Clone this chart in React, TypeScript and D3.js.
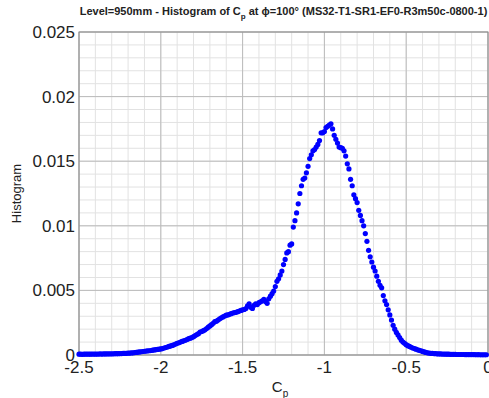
import React from "react";
import * as d3 from "d3";

// Histogram of Cp, bins of width 0.01 starting at -2.50 (values in units of 1e-3)
const binStart = -2.5;
const binWidth = 0.01;
const histogramPerMille = [
  // -2.50 .. -2.31
  0.06, 0.06, 0.05, 0.06, 0.06, 0.07, 0.06, 0.06, 0.07, 0.07,
  0.06, 0.07, 0.07, 0.08, 0.07, 0.08, 0.08, 0.08, 0.09, 0.08,
  // -2.30
  0.09, 0.09, 0.10, 0.10, 0.10, 0.11, 0.11, 0.12, 0.12, 0.13,
  // -2.20
  0.14, 0.15, 0.16, 0.17, 0.19, 0.20, 0.22, 0.24, 0.25, 0.27,
  // -2.10
  0.29, 0.30, 0.32, 0.33, 0.35, 0.37, 0.39, 0.41, 0.43, 0.45,
  // -2.00
  0.47, 0.50, 0.54, 0.58, 0.62, 0.66, 0.70, 0.74, 0.79, 0.85,
  // -1.90
  0.90, 0.95, 1.00, 1.05, 1.10, 1.14, 1.20, 1.26, 1.30, 1.35,
  // -1.80
  1.42, 1.50, 1.58, 1.65, 1.78, 1.82, 1.88, 1.95, 2.05, 2.15,
  // -1.70
  2.25, 2.35, 2.45, 2.58, 2.62, 2.70, 2.80, 2.88, 2.95, 3.02,
  // -1.60
  3.08, 3.10, 3.15, 3.20, 3.25, 3.28, 3.30, 3.35, 3.40, 3.45,
  // -1.50
  3.50, 3.52, 3.60, 3.80, 3.95, 3.70, 3.60, 3.85, 3.95, 3.90,
  // -1.40
  4.05, 4.12, 4.20, 4.30, 4.15, 4.00, 4.35, 4.55, 4.75, 4.95,
  // -1.30
  5.3, 5.7, 5.9, 6.2, 6.5, 7.0, 7.4, 7.9, 8.0, 8.5,
  // -1.20
  8.6, 9.9, 10.4, 11.0, 11.7, 12.5, 13.1, 13.6, 13.7, 14.1,
  // -1.10
  14.6, 15.2, 15.5, 15.8, 15.9, 16.1, 16.3, 16.6, 17.2, 17.2,
  // -1.00
  17.3, 17.6, 17.7, 17.8, 17.9, 17.5, 17.0, 16.7, 16.4, 16.1,
  // -0.90
  16.05, 16.0, 15.8, 15.4, 14.8, 14.4, 13.6, 13.1, 12.4, 12.1,
  // -0.80
  11.8, 11.2, 10.8, 10.4, 10.0, 9.4, 8.8, 8.1, 7.6, 7.2,
  // -0.70
  6.8, 6.5, 6.1, 5.7, 5.4, 5.2, 4.6, 4.2, 3.9, 3.5,
  // -0.60
  3.1, 2.7, 2.3, 2.0, 1.75, 1.55, 1.35, 1.15, 1.0, 0.90,
  // -0.50
  0.80, 0.72, 0.66, 0.60, 0.54, 0.50, 0.45, 0.40, 0.36, 0.33,
  // -0.40
  0.28, 0.24, 0.20, 0.17, 0.15, 0.13, 0.12, 0.11, 0.10, 0.09,
  // -0.30
  0.08, 0.08, 0.07, 0.07, 0.06, 0.06, 0.06, 0.05, 0.05, 0.05,
  // -0.20
  0.05, 0.04, 0.04, 0.04, 0.04, 0.04, 0.03, 0.03, 0.03, 0.03,
  // -0.10
  0.03, 0.03, 0.03, 0.02, 0.03, 0.02, 0.02, 0.02, 0.02, 0.02,
];
const perMille = 1e-3;

const xTicks = [-2.5, -2, -1.5, -1, -0.5, 0];
const xTickLabels = ["-2.5", "-2", "-1.5", "-1", "-0.5", "0"];
const yTicks = [0, 0.005, 0.01, 0.015, 0.02, 0.025];
const yTickLabels = ["0", "0.005", "0.01", "0.015", "0.02", "0.025"];
const xMinorStep = 0.1;
const yMinorStep = 0.001;

const W = 489;
const H = 398;
const M = { left: 79, right: 1, top: 32, bottom: 43 };

export default function App() {
  const x = d3.scaleLinear().domain([-2.5, 0]).range([M.left, W - M.right]);
  const y = d3.scaleLinear().domain([0, 0.025]).range([H - M.bottom, M.top]);

  const points = histogramPerMille.map((v, i) => ({
    cp: binStart + i * binWidth,
    h: v * perMille,
  }));

  const xMinor = d3.range(-2.5, 0.0001, xMinorStep);
  const yMinor = d3.range(0, 0.02501, yMinorStep);

  const font = "Liberation Sans, Arial, sans-serif";
  const x0 = x.range()[0];
  const x1 = x.range()[1];
  const y0 = y.range()[0];
  const y1 = y.range()[1];

  return (
    <svg
      width={W}
      height={H}
      style={{ position: "absolute", left: 0, top: 0, background: "#fff" }}
      fontFamily={font}
    >
      <rect x={0} y={0} width={W} height={H} fill="#fff" />
      {/* minor grid */}
      {xMinor.map((v, i) => (
        <line key={"xm" + i} x1={x(v)} x2={x(v)} y1={y1} y2={y0} stroke="#e2e2e2" strokeWidth={1} />
      ))}
      {yMinor.map((v, i) => (
        <line key={"ym" + i} x1={x0} x2={x1} y1={y(v)} y2={y(v)} stroke="#e2e2e2" strokeWidth={1} />
      ))}
      {/* major grid */}
      {xTicks.map((v, i) => (
        <line key={"xg" + i} x1={x(v)} x2={x(v)} y1={y1} y2={y0} stroke="#bbbbbb" strokeWidth={1} />
      ))}
      {yTicks.map((v, i) => (
        <line key={"yg" + i} x1={x0} x2={x1} y1={y(v)} y2={y(v)} stroke="#bbbbbb" strokeWidth={1} />
      ))}
      {/* box */}
      <rect x={x0} y={y1} width={x1 - x0} height={y0 - y1} fill="none" stroke="#8a8a8a" strokeWidth={1} />

      {/* data */}
      {points.map((p, i) => (
        <circle key={"p" + i} cx={x(p.cp)} cy={y(p.h)} r={2.6} fill="#0000ff" />
      ))}

      {/* tick labels */}
      {xTicks.map((v, i) => (
        <text key={"xt" + i} x={x(v)} y={373} fontSize={17} textAnchor="middle" fill="#222">
          {xTickLabels[i]}
        </text>
      ))}
      {yTicks.map((v, i) => (
        <text key={"yt" + i} x={75} y={y(v) + 6} fontSize={17} textAnchor="end" fill="#222">
          {yTickLabels[i]}
        </text>
      ))}

      {/* axis labels */}
      <text x={280} y={392} fontSize={15} textAnchor="middle" fill="#222">
        C<tspan fontSize={10} dy={5}>p</tspan>
      </text>
      <text
        transform={`translate(21, ${(y0 + y1) / 2}) rotate(-90)`}
        fontSize={13}
        textAnchor="middle"
        fill="#222"
      >
        Histogram
      </text>

      {/* title */}
      <text x={(x0 + x1) / 2} y={15} fontSize={11} fontWeight="bold" textAnchor="middle" fill="#222">
        Level=950mm - Histogram of C<tspan fontSize={8} dy={4}>p</tspan>
        <tspan dy={-4}> at ϕ=100° (MS32-T1-SR1-EF0-R3m50c-0800-1)</tspan>
      </text>
    </svg>
  );
}
